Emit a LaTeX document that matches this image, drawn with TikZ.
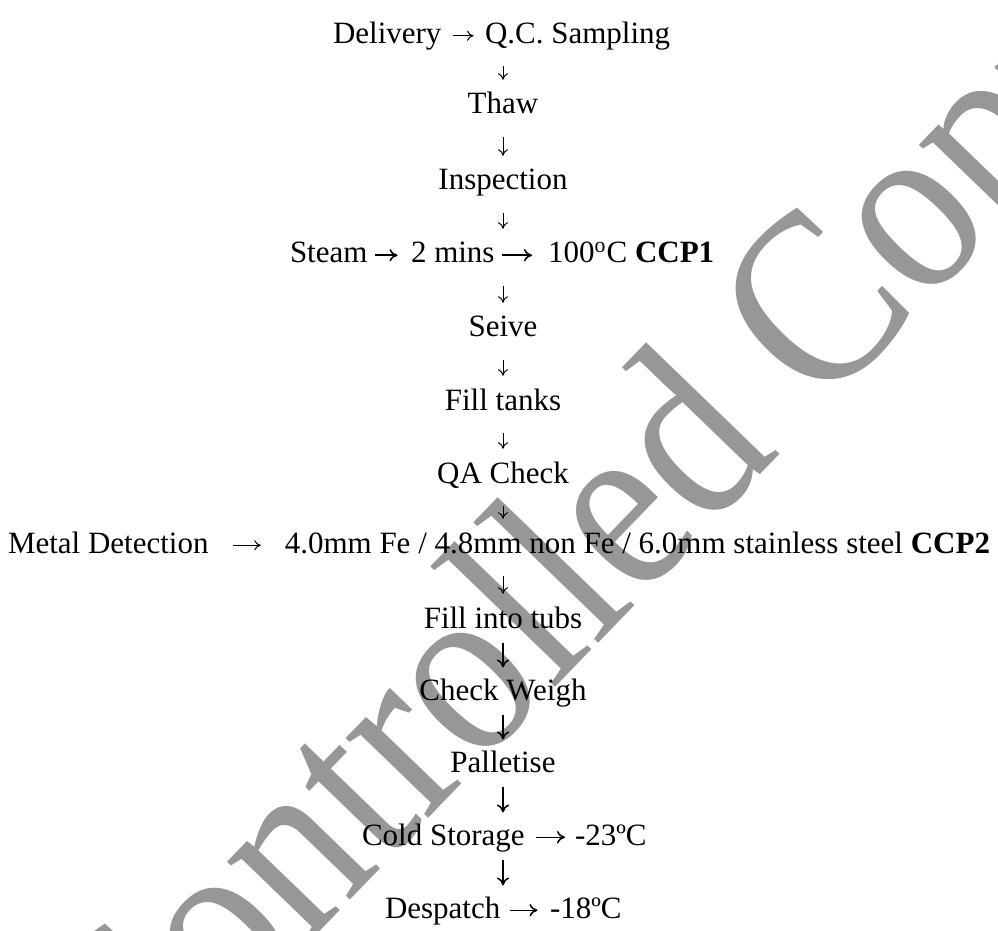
\documentclass[tikz,border=0pt]{standalone}
\usepackage{fontspec}
\setmainfont{Liberation Serif}
\usepackage{tikz}
\usetikzlibrary{arrows.meta}
\definecolor{wmgrey}{RGB}{151,151,151}
\newcommand{\ccp}[1]{\textbf{CCP#1}}
\newcommand{\supo}{\textsuperscript{o}}

\begin{document}
\begin{tikzpicture}[x=0.4pt, y=-0.4pt,
		stage/.style={inner sep=0pt, outer sep=0pt, text height=8.7pt, text depth=2.5pt, font=\fontsize{12.4}{15}\selectfont},
		wmark/.style={anchor=base west, rotate=46, xscale=0.88, inner sep=0pt, text=wmgrey, font=\fontsize{100}{100}\selectfont},
		sa/.style={-{To[length=2.6pt,width=4pt]}, line width=0.4pt},
		ba/.style={-{To[length=3.2pt,width=5pt]}, line width=0.6pt},
		vs/.style={shorten <=6.6pt, shorten >=5pt},
		vb/.style={shorten <=3.3pt, shorten >=4.3pt}]
			\useasboundingbox (0,0) rectangle (998,931);
			% watermark behind the chart
			\node[wmark] (wm) at (128,1130) {Controlled Copy};

			\node[stage, anchor=base west] (delivery) at (333,43.5) {Delivery};
			\node[stage, anchor=base west] (qcs) at (485,43.5) {Q.C. Sampling};
			\node[stage, anchor=base] (thaw) at (503,114) {Thaw};
			\node[stage, anchor=base] (insp) at (503,190) {Inspection};
			\node[stage, anchor=base west] (steam) at (290,263) {Steam};
			\node[stage, anchor=base west] (mins) at (411,263) {2 mins};
			\node[stage, anchor=base west] (temp) at (548,263) {100\supo C \ccp{1}};
			\node[stage, anchor=base] (seive) at (503,337) {Seive};
			\node[stage, anchor=base] (tanks) at (503,410) {Fill tanks};
			\node[stage, anchor=base] (qa) at (503,483) {QA Check};
			\node[stage, anchor=base west] (metal) at (8,553) {Metal Detection};
			\node[stage, anchor=base east] (spec) at (990,553) {4.0mm Fe / 4.8mm non Fe / 6.0mm stainless steel \ccp{2}};
			\node[stage, anchor=base] (tubs) at (503,628) {Fill into tubs};
			\node[stage, anchor=base] (weigh) at (503,700) {Check Weigh};
			\node[stage, anchor=base] (pallet) at (503,772) {Palletise};
			\node[stage, anchor=base west] (cold) at (362,845) {Cold Storage};
			\node[stage, anchor=base west] (cold t) at (575,845) {-23ºC};
			\node[stage, anchor=base west] (desp) at (385,918) {Despatch};
			\node[stage, anchor=base west] (desp t) at (550,918) {-18ºC};

			\path[sa]
			(delivery) edge[shorten <=4.6pt, shorten >=4.6pt] (qcs)
			(metal) edge[shorten <=9.6pt, shorten >=9.6pt] (spec)
			(qcs.south -| thaw) edge[vs] (thaw)
			(thaw) edge[vs] (insp)
			(insp) edge[vs] (insp |- mins.north)
			(seive |- mins.south) edge[vs] (seive)
			(seive) edge[vs] (tanks)
			(tanks) edge[vs] (qa)
			(qa) edge[vs] (qa |- spec.north)
			(tubs |- spec.south) edge[vs] (tubs);
			\path[ba]
			(steam) edge[shorten <=3pt, shorten >=5.4pt] (mins)
			(mins) edge[shorten <=3pt, shorten >=6.4pt] (temp)
			(tubs) edge[vb] (weigh)
			(weigh) edge[vb] (pallet)
			(pallet) edge[vb] (pallet |- cold.north)
			(cold) edge[shorten <=4.6pt, shorten >=4pt] (cold t)
			(pallet |- cold.south) edge[vb] (pallet |- desp.north)
			(desp) edge[shorten <=4pt, shorten >=5pt] (desp t);
		\end{tikzpicture}
\end{document}
